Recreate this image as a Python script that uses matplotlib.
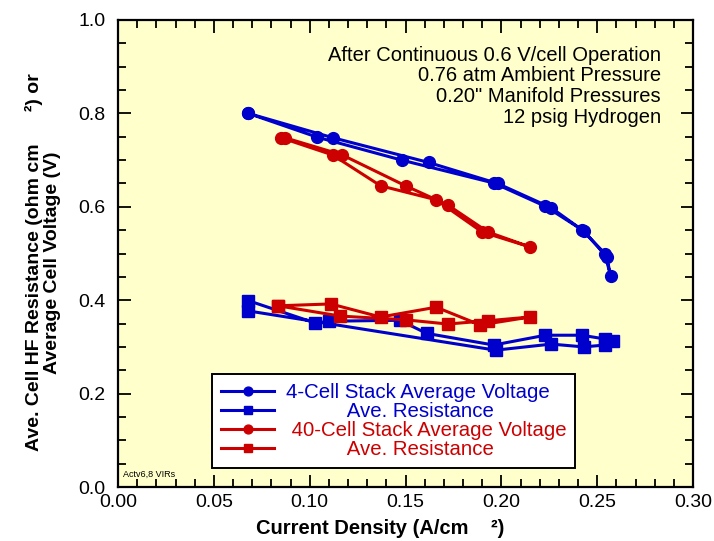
import matplotlib
matplotlib.use("Agg")
import matplotlib.pyplot as plt
from matplotlib.ticker import MultipleLocator, FormatStrFormatter

plt.rcParams['font.family'] = ['Liberation Sans', 'DejaVu Sans']

# ---- data ----
v4_x = [0.068, 0.104, 0.148, 0.196, 0.223, 0.242, 0.254, 0.257, 0.255, 0.243, 0.226, 0.198, 0.162, 0.112, 0.068]
v4_y = [0.800, 0.749, 0.700, 0.651, 0.601, 0.551, 0.500, 0.452, 0.493, 0.548, 0.598, 0.650, 0.695, 0.748, 0.800]

r4_x = [0.068, 0.103, 0.110, 0.147, 0.161, 0.196, 0.223, 0.242, 0.254, 0.258, 0.254, 0.243, 0.226, 0.197, 0.068]
r4_y = [0.399, 0.351, 0.355, 0.357, 0.329, 0.304, 0.325, 0.325, 0.317, 0.313, 0.304, 0.300, 0.306, 0.293, 0.377]

v40_x = [0.085, 0.112, 0.137, 0.166, 0.190, 0.215, 0.193, 0.172, 0.150, 0.117, 0.087]
v40_y = [0.748, 0.711, 0.645, 0.615, 0.546, 0.514, 0.546, 0.604, 0.645, 0.711, 0.748]

r40_x = [0.0835, 0.111, 0.137, 0.166, 0.189, 0.215, 0.193, 0.172, 0.150, 0.116, 0.0835]
r40_y = [0.388, 0.392, 0.364, 0.385, 0.347, 0.364, 0.356, 0.349, 0.358, 0.366, 0.388]

series_labels = ["4-Cell Stack Average Voltage", "Ave. Resistance",
                 "40-Cell Stack Average Voltage", "Ave. Resistance"]
x_ticks = [0.00, 0.05, 0.10, 0.15, 0.20, 0.25, 0.30]
y_ticks = [0.0, 0.2, 0.4, 0.6, 0.8, 1.0]
notes = ["After Continuous 0.6 V/cell Operation", "0.76 atm Ambient Pressure",
         "0.20\" Manifold Pressures", "12 psig Hydrogen"]

BLUE = "#0000CC"
RED = "#CC0000"

fig = plt.figure(figsize=(7.14, 5.41), dpi=100)
ax = fig.add_axes([118/714, 54/541, (693-118)/714, (487-20)/541])
ax.set_facecolor("#FFFFCC")

lw = 2.2
l1, = ax.plot(v4_x, v4_y, color=BLUE, lw=lw, marker='o', ms=8.5)
l2, = ax.plot(r4_x, r4_y, color=BLUE, lw=lw, marker='s', ms=8.5)
l3, = ax.plot(v40_x, v40_y, color=RED, lw=lw, marker='o', ms=8.5)
l4, = ax.plot(r40_x, r40_y, color=RED, lw=lw, marker='s', ms=8.5)

ax.set_xlim(0, 0.30)
ax.set_ylim(0, 1.0)
ax.set_xticks(x_ticks)
ax.set_yticks(y_ticks)
ax.xaxis.set_major_formatter(FormatStrFormatter('%.2f'))
ax.yaxis.set_major_formatter(FormatStrFormatter('%.1f'))
ax.xaxis.set_minor_locator(MultipleLocator(0.01))
ax.yaxis.set_minor_locator(MultipleLocator(0.05))
ax.tick_params(which='both', direction='in', top=True, right=True, width=1.3, colors='black')
ax.tick_params(which='major', length=9, labelsize=14)
ax.tick_params(axis='x', which='major', pad=5)
ax.tick_params(axis='y', which='major', pad=9)
ax.tick_params(which='minor', length=6)
for s in ax.spines.values():
    s.set_linewidth(1.6)

for i, t in enumerate(notes):
    ax.text(0.944, 0.925 - i*0.0445, t, transform=ax.transAxes, ha='right', va='center', fontsize=14.5)

ax.text(0.008, 0.028, "Actv6,8 VIRs", transform=ax.transAxes, fontsize=6.5, ha='left', va='center')

pad = ["", "           ", " ", "           "]
leg = ax.legend([l1, l2, l3, l4], [p + s for p, s in zip(pad, series_labels)],
                loc='upper left', bbox_to_anchor=((212-118)/575, (487-374)/467),
                fancybox=False, frameon=True, edgecolor='black', facecolor='white', framealpha=1,
                fontsize=14.7, labelcolor='linecolor', handlelength=2.6, handletextpad=0.55,
                labelspacing=0.0, borderpad=0.45, borderaxespad=0, markerscale=0.75)
leg.get_frame().set_linewidth(1.4)

fig.text(43/714, 0.515, "Ave. Cell HF Resistance (ohm cm      \u00b2) or\nAverage Cell Voltage (V)",
         rotation=90, ha='center', va='center', fontsize=14, fontweight='bold',
         multialignment='center', linespacing=1.15)
fig.text(380/714, 1-529/541, "Current Density (A/cm    \u00b2)", ha='center', va='center',
         fontsize=14.5, fontweight='bold')

fig.savefig("out.png", dpi=100)
